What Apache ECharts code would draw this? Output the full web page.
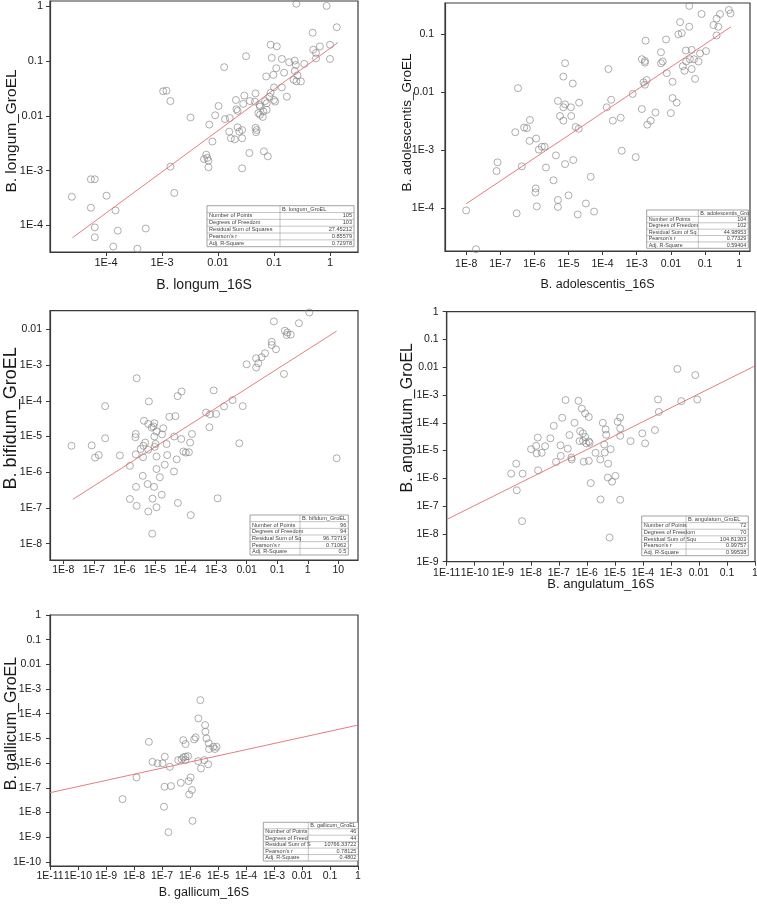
<!DOCTYPE html>
<html><head><meta charset="utf-8">
<script src="https://cdn.jsdelivr.net/npm/echarts@6/dist/echarts.min.js"></script>
<style>html,body{margin:0;padding:0;background:#fff}#c{width:757px;height:904px}</style>
</head><body><div id="c"></div>
<script>
// All values are log10 of the abundances.
const longumPts = [[-0.6,0.05],[-0.06,0.01],[0.12,-0.38],[-0.31,-0.48],[-1.06,-0.70],[-0.95,-0.73],[-0.30,-0.79],[-0.18,-0.73],[-0.25,-0.85],[0,-0.70],[0,-0.96],[-0.25,-0.95],[-1.5,-0.91],[-1.04,-0.94],[-0.86,-0.96],[-0.63,-0.99],[-0.61,-1.07],[-0.46,-1.05],[-0.73,-1.02],[-0.96,-1.13],[-1.01,-1.25],[-0.82,-1.21],[-1.14,-1.28],[-0.63,-1.18],[-0.58,-1.26],[-0.52,-1.37],[-0.65,-1.34],[-0.6,-1.37],[-1.89,-1.11],[-2.98,-1.55],[-2.92,-1.54],[-2.85,-1.73],[-1.0,-1.48],[-0.86,-1.48],[-1.06,-1.58],[-1.0,-1.71],[-0.98,-1.74],[-1.08,-1.65],[-1.16,-1.73],[-0.77,-1.65],[-1.68,-1.71],[-1.53,-1.63],[-1.33,-1.59],[-1.43,-1.73],[-1.34,-1.74],[-1.55,-1.78],[-1.67,-1.88],[-1.65,-1.91],[-1.26,-1.80],[-1.25,-1.83],[-1.13,-1.77],[-1.13,-1.89],[-1.19,-1.92],[-1.99,-1.82],[-2.05,-1.99],[-1.875,-2.06],[-1.79,-2.04],[-1.28,-1.95],[-1.25,-1.98],[-1.20,-2.02],[-2.49,-2.03],[-2.155,-2.16],[-1.65,-2.21],[-1.57,-2.26],[-1.62,-2.29],[-1.80,-2.29],[-1.77,-2.41],[-1.70,-2.43],[-1.57,-2.41],[-2.10,-2.47],[-1.33,-2.22],[-1.31,-2.26],[-1.32,-2.30],[-1.44,-2.68],[-1.18,-2.65],[-1.11,-2.74],[-2.21,-2.71],[-2.19,-2.77],[-2.25,-2.79],[-2.17,-2.82],[-2.17,-2.94],[-2.85,-2.93],[-1.57,-2.96],[-4.61,-3.48],[-4.27,-3.16],[-4.20,-3.16],[-3.99,-3.46],[-2.78,-3.41],[-3.83,-3.73],[-4.27,-3.68],[-4.20,-4.04],[-3.79,-4.10],[-3.29,-4.06],[-4.20,-4.22],[-3.87,-4.39],[-4.02,-4.50],[-3.44,-4.43]];
const longumFit = [[-4.6,-4.23],[0.14,-0.66]];

const adolPts = [[-5.88,-0.45],[-1.46,-0.51],[-0.30,-0.58],[-0.25,-0.64],[-1.10,-0.65],[-0.56,-0.65],[-0.66,-0.73],[-1.73,-0.79],[-1.46,-0.87],[-0.75,-0.84],[-0.61,-0.87],[-1.78,-1.0],[-1.68,-0.98],[-0.66,-1.02],[-2.74,-1.11],[-2.14,-1.09],[-1.39,-1.27],[-1.56,-1.28],[-1.145,-1.33],[-0.97,-1.29],[-2.29,-1.31],[-2.85,-1.43],[-2.76,-1.46],[-2.76,-1.49],[-2.24,-1.47],[-2.29,-1.50],[-1.44,-1.43],[-1.32,-1.43],[-1.55,-1.47],[-1.19,-1.47],[-1.65,-1.55],[-1.60,-1.63],[-1.39,-1.60],[-1.29,-1.77],[-5.1,-1.5],[-3.83,-1.60],[-5.15,-1.73],[-2.12,-1.67],[-1.95,-1.82],[-2.71,-1.79],[-2.80,-1.83],[-2.76,-1.87],[-6.48,-1.93],[-4.875,-1.85],[-5.31,-2.15],[-5.1,-2.21],[-5.15,-2.26],[-4.93,-2.26],[-4.69,-2.18],[-3.88,-2.26],[-3.75,-2.13],[-1.95,-2.10],[-1.83,-2.18],[-2.85,-2.29],[-2.0,-2.36],[-2.45,-2.35],[-2.69,-2.56],[-2.59,-2.49],[-3.12,-2.03],[-5.25,-2.41],[-4.92,-2.41],[-5.15,-2.49],[-4.79,-2.60],[-4.70,-2.63],[-3.47,-2.44],[-3.70,-2.49],[-6.13,-2.48],[-6.56,-2.69],[-6.30,-2.61],[-6.22,-2.62],[-6.14,-2.84],[-5.95,-2.80],[-5.78,-2.94],[-5.70,-2.94],[-5.87,-2.99],[-5.66,-3.30],[-5.37,-3.09],[-5.1,-3.24],[-4.86,-3.17],[-3.44,-3.01],[-3.03,-3.12],[-7.08,-3.21],[-7.11,-3.36],[-6.37,-3.28],[-5.44,-3.52],[-4.35,-3.46],[-5.96,-3.66],[-5.97,-3.73],[-5.93,-3.97],[-5.31,-3.86],[-5.31,-3.98],[-5.0,-3.78],[-4.49,-3.92],[-4.73,-4.11],[-4.25,-4.06],[-6.52,-4.09],[-8.0,-4.04],[-7.71,-4.71],[-5.73,-4.75]];
const adolFit = [[-8.0,-3.925],[-0.236,-0.87]];

const bifPts = [[-0.42,-1.47],[0.05,-1.53],[-1.11,-1.78],[-0.29,-1.83],[-0.75,-2.04],[-0.67,-2.09],[-0.56,-2.15],[-0.69,-2.16],[-1.18,-2.35],[-1.18,-2.44],[-1.04,-2.56],[-1.40,-2.67],[-1.51,-2.78],[-1.69,-2.81],[-1.62,-2.95],[-1.69,-3.07],[-2.0,-2.98],[-0.78,-3.25],[-5.6,-3.37],[-4.13,-3.74],[-4.26,-3.87],[-3.08,-3.71],[-5.2,-4.02],[-2.46,-3.98],[-2.74,-4.16],[-2.13,-4.15],[-6.63,-4.15],[-3.33,-4.33],[-3.2,-4.38],[-3.0,-4.37],[-4.53,-4.45],[-4.33,-4.43],[-5.36,-4.56],[-5.22,-4.65],[-5.02,-4.63],[-5.05,-4.72],[-5.11,-4.75],[-4.95,-4.86],[-4.73,-4.77],[-4.77,-4.94],[-3.22,-4.74],[-5.63,-4.93],[-5.64,-5.02],[-6.63,-5.05],[-5.02,-5.0],[-4.37,-5.0],[-4.14,-5.07],[-3.79,-4.93],[-3.85,-5.17],[-2.24,-5.19],[-5.32,-5.17],[-5.38,-5.26],[-5.47,-5.35],[-4.98,-5.21],[-5.01,-5.29],[-5.22,-5.37],[-4.62,-5.21],[-4.60,-5.52],[-7.73,-5.26],[-7.07,-5.25],[-5.63,-5.50],[-6.84,-5.52],[-6.96,-5.59],[-6.15,-5.53],[-5.39,-5.58],[-4.95,-5.56],[-4.07,-5.42],[-3.89,-5.44],[-3.99,-5.45],[-4.29,-5.64],[-5.82,-5.82],[-4.68,-5.79],[-4.95,-5.91],[-4.38,-5.98],[-5.40,-6.10],[-4.84,-6.14],[-5.24,-6.33],[-5.62,-6.41],[-5.03,-6.41],[-4.78,-6.63],[-5.82,-6.75],[-5.6,-6.94],[-5.08,-6.74],[-4.95,-6.98],[-4.25,-6.86],[-2.95,-6.73],[-5.22,-7.10],[-3.83,-7.20],[-5.09,-7.72],[0.945,-5.61]];
const bifFit = [[-7.69,-6.76],[0.945,-2.05]];

const angPts = [[-2.77,-2.06],[-2.13,-2.28],[-3.46,-3.16],[-2.63,-3.22],[-2.06,-3.16],[-3.43,-3.61],[-6.76,-3.18],[-6.30,-3.21],[-6.18,-3.49],[-6.06,-3.66],[-5.93,-3.79],[-6.88,-3.82],[-6.44,-4.0],[-5.43,-4.0],[-4.90,-3.96],[-4.81,-3.81],[-7.18,-4.11],[-6.24,-4.30],[-5.33,-4.24],[-4.81,-4.20],[-6.62,-4.44],[-5.31,-4.43],[-4.81,-4.47],[-4.44,-4.66],[-4.02,-4.38],[-3.92,-4.74],[-3.57,-4.26],[-7.75,-4.53],[-7.30,-4.56],[-6.14,-4.65],[-5.93,-4.67],[-5.90,-4.72],[-7.99,-4.95],[-7.49,-4.84],[-6.94,-4.81],[-7.81,-4.83],[-6.68,-4.93],[-6.14,-4.38],[-6.06,-4.51],[-6.26,-4.66],[-6.02,-4.74],[-5.38,-4.78],[-5.15,-4.95],[-5.69,-5.08],[-5.36,-5.07],[-7.61,-5.08],[-7.79,-5.10],[-6.93,-5.19],[-6.55,-5.25],[-6.54,-5.32],[-7.10,-5.41],[-6.11,-5.40],[-5.93,-5.37],[-5.52,-5.32],[-5.24,-5.47],[-8.70,-5.83],[-8.52,-5.47],[-8.29,-5.83],[-7.74,-5.71],[-5.86,-6.17],[-4.98,-5.91],[-5.25,-5.97],[-5.10,-6.12],[-8.5,-6.43],[-5.51,-6.76],[-4.81,-6.77],[-8.31,-7.54],[-5.19,-8.13]];
const angFit = [[-11,-7.48],[0,-1.95]];

const galPts = [[-5.63,-3.45],[-5.70,-4.19],[-5.46,-4.46],[-5.45,-4.73],[-5.80,-4.96],[-5.85,-5.04],[-5.41,-5.0],[-5.33,-5.20],[-5.17,-5.34],[-5.05,-5.34],[-5.32,-5.43],[-5.11,-5.43],[-6.24,-5.07],[-6.16,-5.23],[-7.47,-5.14],[-6.90,-5.74],[-7.34,-5.95],[-7.16,-6.01],[-6.98,-6.01],[-6.72,-6.15],[-6.42,-5.88],[-6.30,-5.85],[-6.24,-5.77],[-6.16,-5.74],[-6.07,-5.72],[-6.16,-5.88],[-5.71,-5.92],[-5.49,-5.88],[-5.35,-6.05],[-5.61,-6.22],[-7.91,-6.58],[-5.98,-6.58],[-6.05,-6.73],[-6.33,-6.80],[-6.91,-6.96],[-6.68,-6.93],[-5.93,-7.09],[-6.03,-7.27],[-8.41,-7.46],[-6.93,-7.77],[-5.91,-8.34],[-6.77,-8.80]];
const galFit = [[-11,-7.20],[0,-4.46]];

const statLabels = ['Number of Points','Degrees of Freedom','Residual Sum of Squares',"Pearson's r",'Adj. R-Square'];
const statLabelsShort = ['Number of Points','Degrees of Freedom','Residual Sum of Sq',"Pearson's r",'Adj. R-Square'];
const statLabelsAng = ['Number of Points','Degrees of Freedom','Residual Sum of Squ',"Pearson's r",'Adj. R-Square'];
const statLabelsGal = ['Number of Points','Degrees of Freed','Residual Sum of S',"Pearson's r",'Adj. R-Square'];
const longumStats = ['105','103','27.45212','0.85579','0.72978'];
const adolStats = ['104','102','44.98953','0.77329','0.59404'];
const bifStats = ['96','94','96.73719','0.71062','0.5'];
const angStats = ['72','70','104.81303','0.99757','0.99538'];
const galStats = ['46','44','10766.33722','0.78125','0.4802'];

const xTicksLongum = [-4,-3,-2,-1,0];
const yTicksLongum = [-4,-3,-2,-1,0];
const xTicksAdol = [-8,-7,-6,-5,-4,-3,-2,-1,0];
const yTicksAdol = [-4,-3,-2,-1];
const xTicksBif = [-8,-7,-6,-5,-4,-3,-2,-1,0,1];
const yTicksBif = [-8,-7,-6,-5,-4,-3,-2];
const xTicksAng = [-11,-10,-9,-8,-7,-6,-5,-4,-3,-2,-1,0];
const yTicksAng = [-9,-8,-7,-6,-5,-4,-3,-2,-1,0];
const xTicksGal = [-11,-10,-9,-8,-7,-6,-5,-4,-3,-2,-1,0];
const yTicksGal = [-10,-9,-8,-7,-6,-5,-4,-3,-2,-1,0];

const FONT = '"Liberation Sans", Arial, sans-serif';
const fmt = v => { const e = Math.round(v); if (e >= -2) return String(Number(Math.pow(10, e).toFixed(Math.max(0, -e)))); return '1E' + e; };

const panels = [
  {grid:{left:50,top:1,width:308,height:251}, x:[-5,0.5], y:[-4.49,0.10], xt:xTicksLongum, yt:yTicksLongum,
   xn:'B. longum_16S', yn:'B. longum_GroEL', xns:14, yns:15.5, xng:26, yng:30, lf:11, xm:5, ym:7, ypad:[0,9,0,0],
   pts:longumPts, fit:longumFit, tab:{x0:207,x1:280,x2:354,y0:205.7,y1:246.7,h:'B. longum_GroEL',l:statLabels,v:longumStats}},
  {grid:{left:445,top:3,width:305,height:248}, x:[-8.62,0.32], y:[-4.74,-0.46], xt:xTicksAdol, yt:yTicksAdol,
   xn:'B. adolescentis_16S', yn:'B. adolescentis_GroEL', xns:12.5, yns:13.5, xng:27, yng:31, lf:10.5, xm:8, ym:11, ypad:[0,0,0,9],
   pts:adolPts, fit:adolFit, tab:{x0:646.7,x1:698.3,x2:748.3,y0:210,y1:248.3,h:'B. adolescentis_Gro',l:statLabelsShort,v:adolStats}},
  {grid:{left:50,top:310.7,width:308,height:249.3}, x:[-8.435,1.643], y:[-8.456,-1.48], xt:xTicksBif, yt:yTicksBif,
   xn:'', yn:'B. bifidum_GroEL', xns:13, yns:18, xng:26, yng:30, lf:10.5, xm:5, ym:8, ypad:[0,0,0,34],
   pts:bifPts, fit:bifFit, tab:{x0:250,x1:300,x2:348.3,y0:515,y1:555,h:'B. bifidum_GroEL',l:statLabelsShort,v:bifStats}},
  {grid:{left:446.7,top:311.7,width:308.3,height:250}, x:[-11,0], y:[-9,0], xt:xTicksAng, yt:yTicksAng,
   xn:'B. angulatum_16S', yn:'B. angulatum_GroEL', xns:13, yns:16, xng:16.5, yng:31, lf:10.5, xm:5.5, ym:8, ypad:[0,0,0,38],
   pts:angPts, fit:angFit, tab:{x0:641.7,x1:686,x2:748.3,y0:516,y1:555.7,h:'B. angulatum_GroEL',l:statLabelsAng,v:angStats}},
  {grid:{left:50,top:615,width:308,height:251}, x:[-11,0], y:[-10.17,0], xt:xTicksGal, yt:yTicksGal,
   xn:'B. gallicum_16S', yn:'B. gallicum_GroEL', xns:12.5, yns:16, xng:20, yng:30, lf:10.5, xm:5, ym:9, ypad:[0,0,0,34],
   pts:galPts, fit:galFit, tab:{x0:263.3,x1:308.3,x2:358.3,y0:822.3,y1:861,h:'B. gallicum_GroEL',l:statLabelsGal,v:galStats}}
];

const AX = '#3a3a3a';
const grids = [], xAxes = [], yAxes = [], series = [], graphics = [];
panels.forEach((p, i) => {
  grids.push(Object.assign({show:true, borderColor:AX, borderWidth:1.2, backgroundColor:'transparent', containLabel:false, outerBoundsMode:'none'}, p.grid));
  const common = {type:'value', gridIndex:i, splitLine:{show:false}, nameLocation:'middle', nameMoveOverlap:false,
    axisLine:{show:true, onZero:false, lineStyle:{color:AX, width:1.2}},
    axisTick:{show:true, inside:false, length:4, lineStyle:{color:AX, width:1}}};
  xAxes.push(Object.assign({}, common, {min:p.x[0], max:p.x[1], name:p.xn, nameGap:p.xng,
    nameTextStyle:{fontFamily:FONT, fontSize:p.xns, color:'#1a1a1a'},
    axisTick:Object.assign({}, common.axisTick, {customValues:p.xt}),
    axisLabel:{customValues:p.xt, formatter:fmt, margin:p.xm, fontFamily:FONT, fontSize:p.lf, color:'#1a1a1a', hideOverlap:false}}));
  yAxes.push(Object.assign({}, common, {min:p.y[0], max:p.y[1], name:p.yn, nameGap:p.yng,
    nameTextStyle:{fontFamily:FONT, fontSize:p.yns, color:'#1a1a1a', padding:p.ypad},
    axisTick:Object.assign({}, common.axisTick, {customValues:p.yt}),
    axisLabel:{customValues:p.yt, formatter:fmt, margin:p.ym, fontFamily:FONT, fontSize:p.lf, color:'#1a1a1a', hideOverlap:false}}));
  series.push({type:'scatter', xAxisIndex:i, yAxisIndex:i, data:p.pts, symbol:'circle', symbolSize:7, clip:true,
    itemStyle:{color:'rgba(255,255,255,0)', borderColor:'#808080', borderWidth:0.8}, silent:true, z:2});
  series.push({type:'line', xAxisIndex:i, yAxisIndex:i, data:p.fit, symbol:'none', clip:true,
    lineStyle:{color:'#e07070', width:0.9}, silent:true, z:3});
  const t = p.tab, rh = (t.y1 - t.y0) / 6, fs = Math.min(5.6, rh * 0.85);
  const ch = [{type:'rect', shape:{x:t.x0, y:t.y0, width:t.x2 - t.x0, height:t.y1 - t.y0}, style:{fill:'#fff', stroke:'#666', lineWidth:0.6}},
    {type:'line', shape:{x1:t.x1, y1:t.y0, x2:t.x1, y2:t.y1}, style:{stroke:'#888', lineWidth:0.5}}];
  for (let r = 1; r < 6; r++) ch.push({type:'line', shape:{x1:t.x0, y1:t.y0 + r*rh, x2:t.x2, y2:t.y0 + r*rh}, style:{stroke:'#888', lineWidth:0.5}});
  ch.push({type:'text', style:{x:t.x1 + 2, y:t.y0 + rh/2, text:t.h, fontSize:fs, fontFamily:FONT, fill:'#444', verticalAlign:'middle', align:'left'}});
  t.l.forEach((lab, r) => {
    ch.push({type:'text', style:{x:t.x0 + 2, y:t.y0 + (r + 1.5)*rh, text:lab, fontSize:fs, fontFamily:FONT, fill:'#444', verticalAlign:'middle', align:'left'}});
    ch.push({type:'text', style:{x:t.x2 - 2, y:t.y0 + (r + 1.5)*rh, text:t.v[r], fontSize:fs, fontFamily:FONT, fill:'#444', verticalAlign:'middle', align:'right'}});
  });
  graphics.push({type:'group', z:10, children:ch});
});

const chart = echarts.init(document.getElementById('c'), null, {renderer:'canvas'});
chart.setOption({animation:false, backgroundColor:'#fff', grid:grids, xAxis:xAxes, yAxis:yAxes, series:series, graphic:graphics});
</script></body></html>
